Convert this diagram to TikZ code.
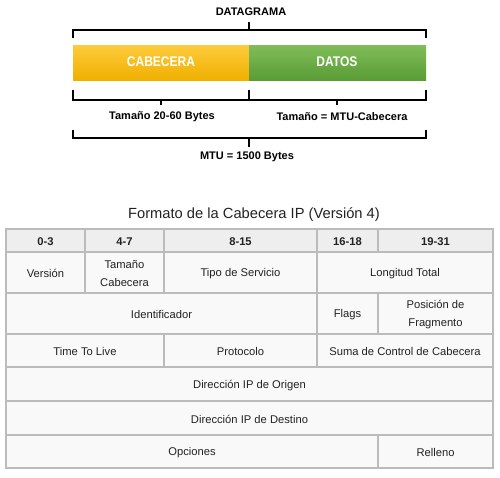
\documentclass[tikz,border=0pt]{standalone}
\usepackage{fontspec}
\setmainfont{Liberation Sans}
\definecolor{bordergray}{HTML}{BBBBBB}
\definecolor{headfill}{HTML}{EEEEEE}
\definecolor{cellfill}{HTML}{F9F9F9}
\definecolor{txt}{HTML}{222222}
\definecolor{yelltop}{HTML}{FDCB3C}
\definecolor{yellbot}{HTML}{EFB000}
\definecolor{greentop}{HTML}{80BD58}
\definecolor{greenbot}{HTML}{5A9C36}
\newcommand\tcell[7]{%
  \node[#1, minimum width={(#4-#2)*1pt}, minimum height={(#5-#3)*1pt}] (#6)
    at ({(#2+#4)/2},{(#3+#5)/2}) {};
  \node[celltext] (#6t) at ([yshift=-1.2pt]#6.center) {#7};}
\begin{document}
\begin{tikzpicture}[x=1pt,y=-1pt,
  brk/.style={line width=1.5pt, black},
  lbl/.style={font=\fontsize{11}{13}\selectfont\bfseries, text=black},
  bartext/.style={font=\fontsize{14}{16}\selectfont\bfseries, text=white},
  cell/.style={draw=bordergray, line width=1.3pt, fill=cellfill, inner sep=0pt, outer sep=0pt},
  hcell/.style={cell, fill=headfill},
  celltext/.style={text=txt, align=center, inner sep=0pt, font=\fontsize{11.2}{18}\selectfont},
  hd/.style={font=\bfseries}]
\useasboundingbox (0,0) rectangle (500,477);
% top diagram
\node[lbl] (dg) at (251,12) {DATAGRAMA};
\coordinate (t1) at (73,38); \coordinate (t2) at (73,30); \coordinate (t3) at (426,30); \coordinate (t4) at (426,38);
\coordinate (tc1) at (249,30); \coordinate (tc2) at (249,22);
\draw[brk] (t1) -- (t2) -- (t3) -- (t4);
\draw[brk] (tc1) -- (tc2);
\shade[top color=yelltop, bottom color=yellbot] (73,45) rectangle (249,80);
\shade[top color=greentop, bottom color=greenbot] (249,45) rectangle (426,80);
\node[bartext] (cab) at (161,62) {\scalebox{0.86}[1]{CABECERA}};
\node[bartext] (dat) at (337,62) {\scalebox{0.86}[1]{DATOS}};
% lower bracket
\coordinate (b1) at (73,90); \coordinate (b2) at (73,100); \coordinate (b3) at (426,100); \coordinate (b4) at (426,90);
\coordinate (bm1) at (249,90); \coordinate (bm2) at (249,100);
\draw[brk] (b1) -- (b2) -- (b3) -- (b4);
\draw[brk] (bm1) -- (bm2);
\draw[brk] (161,100) -- (161,105);
\draw[brk] (337,100) -- (337,105);
\node[lbl] (l1) at (162,117) {Tamaño 20-60 Bytes};
\node[lbl] (l2) at (342,117) {Tamaño = MTU-Cabecera};
% MTU bracket
\draw[brk] (73,130) -- (73,138) -- (426,138) -- (426,130);
\draw[brk] (249,138) -- (249,147);
\node[lbl] (mtu) at (247,157) {MTU = 1500 Bytes};
% table
\node[font=\fontsize{14.7}{17}\selectfont, text=txt] (title) at (254,215) {Formato de la Cabecera IP (Versión 4)};
\tcell{hcell}{6}{229}{85}{252}{h1}{\bfseries 0-3}
\tcell{hcell}{85}{229}{164}{252}{h2}{\bfseries 4-7}
\tcell{hcell}{164}{229}{317}{252}{h3}{\bfseries 8-15}
\tcell{hcell}{317}{229}{378}{252}{h4}{\bfseries 16-18}
\tcell{hcell}{378}{229}{493}{252}{h5}{\bfseries 19-31}
\tcell{cell}{6}{252}{85}{293}{ver}{Versión}
\tcell{cell}{85}{252}{164}{293}{tam}{Tamaño\\Cabecera}
\tcell{cell}{164}{252}{317}{293}{tip}{Tipo de Servicio}
\tcell{cell}{317}{252}{493}{293}{lon}{Longitud Total}
\tcell{cell}{6}{293}{317}{334}{ide}{Identificador}
\tcell{cell}{317}{293}{378}{334}{fla}{Flags}
\tcell{cell}{378}{293}{493}{334}{pos}{Posición de\\Fragmento}
\tcell{cell}{6}{334}{164}{367}{ttl}{Time To Live}
\tcell{cell}{164}{334}{317}{367}{pro}{Protocolo}
\tcell{cell}{317}{334}{493}{367}{sum}{Suma de Control de Cabecera}
\tcell{cell}{6}{367}{493}{401}{ori}{Dirección IP de Origen}
\tcell{cell}{6}{401}{493}{435}{des}{Dirección IP de Destino}
\tcell{cell}{6}{435}{378}{468}{opc}{Opciones}
\tcell{cell}{378}{435}{493}{468}{rel}{Relleno}
\end{tikzpicture}
\end{document}
